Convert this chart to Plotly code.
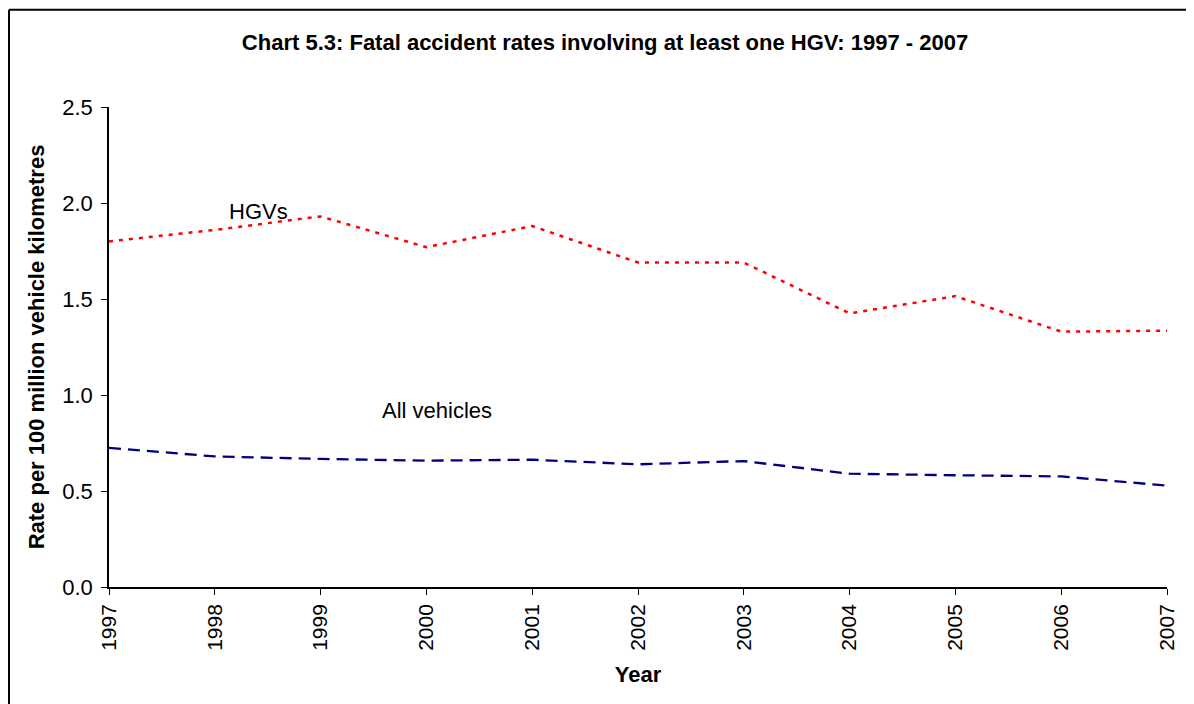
import plotly.graph_objects as go

years = [1997, 1998, 1999, 2000, 2001, 2002, 2003, 2004, 2005, 2006, 2007]
hgv_rate = [1.80, 1.86, 1.93, 1.77, 1.88, 1.69, 1.69, 1.425, 1.515, 1.33, 1.335]
all_rate = [0.725, 0.68, 0.667, 0.658, 0.663, 0.639, 0.656, 0.59, 0.582, 0.576, 0.528]
y_ticks = [0.0, 0.5, 1.0, 1.5, 2.0, 2.5]

font_name = 'Liberation Sans, Arial, sans-serif'

fig = go.Figure()
fig.add_trace(go.Scatter(
    x=years,
    y=hgv_rate,
    name='HGVs',
    mode='lines',
    line=dict(color='#ff0000', width=2.5, dash='4px,6px')
))
fig.add_trace(go.Scatter(
    x=years,
    y=all_rate,
    name='All vehicles',
    mode='lines',
    line=dict(color='#000080', width=2.3, dash='12px,7px')
))

# series labels sitting on the chart
fig.add_annotation(x=1998.41, y=1.958, text='HGVs', showarrow=False,
                   font=dict(size=22, color='#000000'))
fig.add_annotation(x=2000.1, y=0.918, text='All vehicles', showarrow=False,
                   font=dict(size=22, color='#000000'))

# outer frame of the chart (only top and left edges show in the original)
fig.add_shape(type='line', xref='paper', yref='paper',
              x0=-0.0945, x1=1.2, y0=1.2025, y1=1.2025,
              line=dict(color='#000000', width=2))
fig.add_shape(type='line', xref='paper', yref='paper',
              x0=-0.0945, x1=-0.0945, y0=-0.4, y1=1.2025,
              line=dict(color='#000000', width=2))

# the page adds an 8px body margin, so the figure is sized/offset for it
fig.update_layout(
    width=1186,
    height=696,
    showlegend=False,
    plot_bgcolor='#ffffff',
    paper_bgcolor='#ffffff',
    font=dict(family=font_name, color='#000000'),
    margin=dict(l=101, r=27, t=99, b=117),
    title=dict(
        text='<b>Chart 5.3: Fatal accident rates involving at least one HGV: 1997 - 2007</b>',
        font=dict(size=22, color='#000000'),
        x=597 / 1186,
        xanchor='center',
        y=1 - 34 / 696,
        yanchor='middle'
    ),
    xaxis=dict(
        title=dict(text='<b>Year</b>', font=dict(size=22), standoff=17),
        range=[1997, 2007],
        tickmode='array',
        tickvals=years,
        ticktext=[str(y) for y in years],
        tickangle=-90,
        tickfont=dict(size=21),
        ticks='outside',
        ticklen=6,
        tickcolor='#000000',
        ticklabelstandoff=1,
        showline=True,
        linecolor='#000000',
        linewidth=1.5,
        showgrid=False,
        zeroline=False
    ),
    yaxis=dict(
        title=dict(text='<b>Rate per 100 million vehicle kilometres</b>', font=dict(size=22), standoff=12),
        range=[0, 2.5],
        tickmode='array',
        tickvals=y_ticks,
        ticktext=['%.1f' % v for v in y_ticks],
        tickfont=dict(size=22),
        ticks='outside',
        ticklen=6,
        tickcolor='#000000',
        ticklabelstandoff=4,
        showline=True,
        linecolor='#000000',
        linewidth=1.5,
        showgrid=False,
        zeroline=False
    )
)

fig.write_html('out.html', config={'displayModeBar': False})
